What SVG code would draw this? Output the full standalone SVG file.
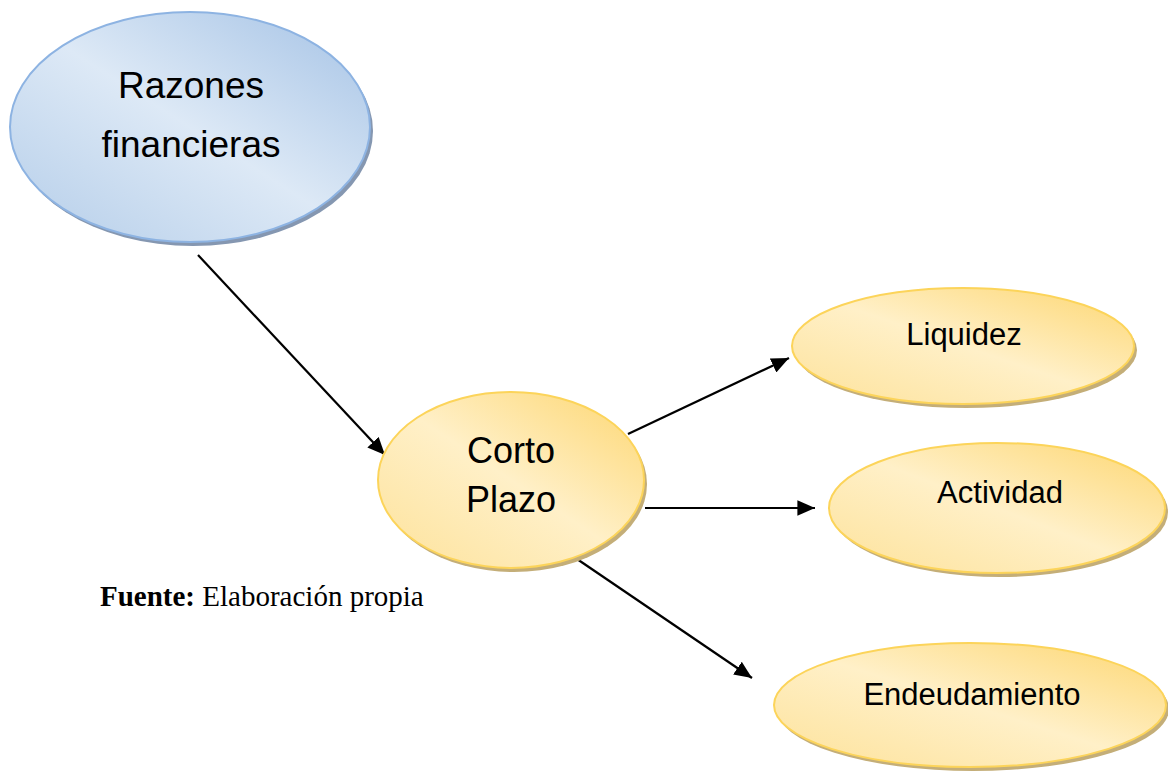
<svg xmlns="http://www.w3.org/2000/svg" width="1168" height="774" viewBox="0 0 1168 774">
<style>
.lbl{font-family:"Liberation Sans",Arial,sans-serif;fill:#000;text-anchor:middle}
.conn{stroke:#000;stroke-width:2.2;fill:none;marker-end:url(#ah)}
.ys{fill:#c4ae78}
.yf{fill:url(#yg);stroke:#fcd45a;stroke-width:2}
.bs{fill:#8597b1}
.bf{fill:url(#bg);stroke:#8db3e2;stroke-width:2}
.src{font-family:"Liberation Serif","Times New Roman",serif;font-size:29px;fill:#000}
</style>
<defs>
<linearGradient id="bg" x1="1" y1="0" x2="0" y2="1">
<stop offset="0" stop-color="#a4c2e5"/>
<stop offset="0.5" stop-color="#dde9f6"/>
<stop offset="1" stop-color="#b4cde9"/>
</linearGradient>
<linearGradient id="yg" x1="1" y1="0" x2="0" y2="1">
<stop offset="0" stop-color="#fdd670"/>
<stop offset="0.5" stop-color="#fff0c8"/>
<stop offset="1" stop-color="#fde29a"/>
</linearGradient>
<marker id="ah" viewBox="0 0 10 10" refX="10" refY="5" markerWidth="8" markerHeight="7" markerUnits="strokeWidth" orient="auto" preserveAspectRatio="none">
<path d="M0,0 L10,5 L0,10 z" fill="#000"/>
</marker>
</defs>
<rect width="1168" height="774" fill="#fff"/>
<g id="connectors">
<line class="conn" x1="198" y1="255" x2="385" y2="455"/>
<line class="conn" x1="628" y1="434" x2="789" y2="358"/>
<line class="conn" x1="645" y1="508" x2="815" y2="508"/>
<line class="conn" x1="577" y1="559" x2="752" y2="678"/>
</g>
<g id="razones">
<ellipse class="bs" cx="193" cy="131" rx="180" ry="115"/>
<ellipse class="bf" cx="190" cy="127" rx="180" ry="115"/>
<text class="lbl" x="191" y="98" font-size="37">Razones</text>
<text class="lbl" x="191" y="157" font-size="37">financieras</text>
</g>
<g id="corto">
<ellipse class="ys" cx="514" cy="484" rx="133" ry="88"/>
<ellipse class="yf" cx="511" cy="480" rx="133" ry="88"/>
<text class="lbl" x="511" y="463" font-size="36">Corto</text>
<text class="lbl" x="511" y="512" font-size="36">Plazo</text>
</g>
<g id="liquidez">
<ellipse class="ys" cx="966" cy="350" rx="171" ry="58"/>
<ellipse class="yf" cx="963" cy="346" rx="171" ry="58"/>
<text class="lbl" x="964" y="345" font-size="31">Liquidez</text>
</g>
<g id="actividad">
<ellipse class="ys" cx="1000" cy="512" rx="168" ry="65"/>
<ellipse class="yf" cx="997" cy="508" rx="168" ry="65"/>
<text class="lbl" x="1000" y="503" font-size="31">Actividad</text>
</g>
<g id="endeudamiento">
<ellipse class="ys" cx="973" cy="709" rx="196" ry="62"/>
<ellipse class="yf" cx="970" cy="705" rx="196" ry="62"/>
<text class="lbl" x="972" y="705" font-size="31">Endeudamiento</text>
</g>
<g id="fuente">
<text class="src" x="100" y="606"><tspan font-weight="bold">Fuente:</tspan> Elaboración propia</text>
</g>
</svg>
